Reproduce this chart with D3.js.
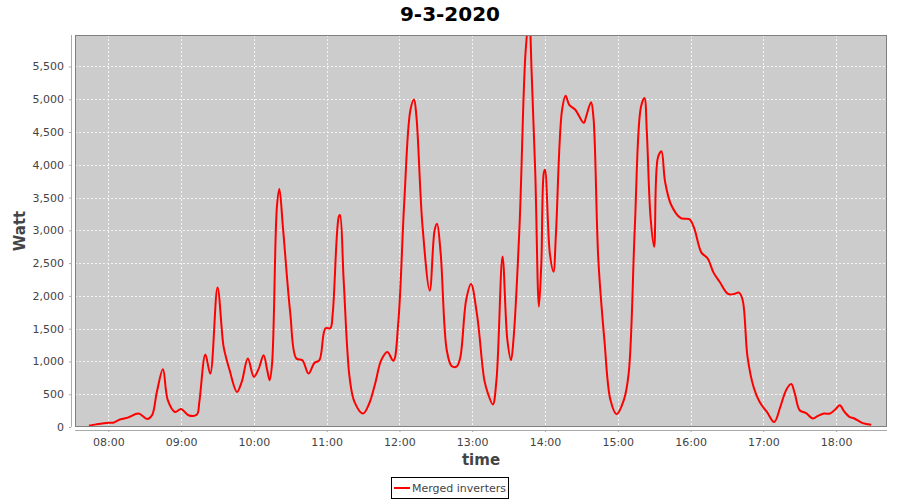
<!DOCTYPE html>
<html>
<head>
<meta charset="utf-8">
<script src="https://cdn.jsdelivr.net/npm/d3@7"></script>
<style>
  body { margin: 0; background: #fff; }
  text { font-family: "DejaVu Sans", sans-serif; }
</style>
</head>
<body>
<svg id="chart"></svg>
<script>
// readings of the day (time of day, power in Watt)
const times = ["07:44","07:50","08:00","08:04","08:10","08:16","08:25","08:32","08:36","08:40","08:45","08:49","08:55",
  "09:00","09:06","09:13","09:15","09:20","09:24","09:30","09:35","09:38","09:40","09:46","09:50","09:55",
  "10:00","10:04","10:08","10:11","10:13","10:15","10:19","10:21","10:24","10:30","10:35","10:40","10:45","10:50","10:54","10:59",
  "11:03","11:05","11:10","11:11","11:14","11:19","11:23","11:30","11:35","11:40","11:45","11:50","11:55","11:59",
  "12:04","12:09","12:12","12:14","12:19","12:25","12:29","12:31","12:34","12:39","12:43","12:47","12:50","12:55","12:59",
  "13:04","13:10","13:13","13:17","13:20","13:25","13:29","13:32","13:34","13:39","13:44","13:47","13:49","13:52","13:55","13:57","13:59",
  "14:00","14:04","14:07","14:09","14:14","14:17","14:20","14:25","14:32","14:34","14:38","14:40","14:44","14:49","14:54","14:59",
  "15:05","15:09","15:14","15:19","15:22","15:24","15:27","15:30","15:33","15:36","15:39","15:44","15:52","15:59",
  "16:03","16:09","16:14","16:19","16:24","16:31","16:36","16:40","16:43","16:47","16:52","16:57",
  "17:03","17:09","17:14","17:19","17:23","17:26","17:30","17:35","17:41","17:45","17:50","17:55",
  "18:00","18:03","18:07","18:11","18:15","18:22","18:29"];
const watts = [20,40,65,65,118,143,205,122,180,535,880,410,230,
  275,180,190,380,1105,815,2130,1225,995,865,535,690,1045,
  765,890,1095,865,715,970,3365,3630,3035,1735,1045,1020,815,980,1020,1505,
  1505,1735,3210,3235,2245,740,380,205,355,665,1020,1145,1010,1580,
  3440,4830,4995,4740,3070,2080,3000,3100,2650,1175,930,920,1045,1935,2180,
  1710,715,510,345,715,2600,1325,1020,1325,3060,5720,6250,5410,3875,1835,2500,3875,
  3925,2650,2370,2930,4825,5055,4915,4840,4640,4740,4955,4715,2550,1325,410,195,
  410,815,3010,4870,5020,4485,3210,2750,4100,4205,3745,3390,3185,3170,
  3035,2660,2575,2355,2215,2030,2030,2050,1935,1070,610,380,
  230,75,305,570,655,510,255,215,130,170,205,205,
  280,330,230,155,130,60,35];
const yTicks = [0,500,1000,1500,2000,2500,3000,3500,4000,4500,5000,5500];
const xTickLabels = ["08:00","09:00","10:00","11:00","12:00","13:00","14:00","15:00","16:00","17:00","18:00"];
const seriesName = "Merged inverters";

const width = 900, height = 500;
const plot = { left: 75, top: 35, right: 887, bottom: 427 };

const parseTime = d3.timeParse("%H:%M");
const data = times.map((t, i) => ({ t: parseTime(t), w: watts[i] }));

const svg = d3.select("#chart").attr("width", width).attr("height", height);

// the left edge is 07:32:30
const x = d3.scaleTime()
    .domain([new Date(parseTime("07:32").getTime() + 30000), parseTime("18:42")])
    .range([plot.left, plot.right]);

const y = d3.scaleLinear()
    .domain([0, 5980])
    .range([plot.bottom, plot.top]);

// plot background
svg.append("rect")
    .attr("x", plot.left).attr("y", plot.top)
    .attr("width", plot.right - plot.left).attr("height", plot.bottom - plot.top)
    .attr("fill", "#cccccc");

// grid lines
const grid = svg.append("g").attr("stroke", "#f4f4f4").attr("stroke-dasharray", "2,2").attr("stroke-width", 1);
grid.selectAll(".gy").data(yTicks.filter(d => d > 0)).enter().append("line")
    .attr("x1", plot.left).attr("x2", plot.right)
    .attr("y1", d => Math.round(y(d)) + 0.5).attr("y2", d => Math.round(y(d)) + 0.5);
grid.selectAll(".gx").data(xTickLabels).enter().append("line")
    .attr("y1", plot.top).attr("y2", plot.bottom)
    .attr("x1", d => Math.round(x(parseTime(d))) + 0.5).attr("x2", d => Math.round(x(parseTime(d))) + 0.5);

// the series
svg.append("clipPath").attr("id", "clip").append("rect")
    .attr("x", plot.left).attr("y", plot.top)
    .attr("width", plot.right - plot.left).attr("height", plot.bottom - plot.top);

const line = d3.line()
    .x(d => x(d.t))
    .y(d => y(d.w))
    .curve(d3.curveCatmullRom.alpha(0.5));

svg.append("path")
    .datum(data)
    .attr("clip-path", "url(#clip)")
    .attr("fill", "none")
    .attr("stroke", "#ff0000")
    .attr("stroke-width", 2)
    .attr("stroke-linejoin", "round")
    .attr("d", line);

// plot border
svg.append("rect")
    .attr("x", plot.left + 0.5).attr("y", plot.top + 0.5)
    .attr("width", plot.right - plot.left - 1).attr("height", plot.bottom - plot.top - 1)
    .attr("fill", "none").attr("stroke", "#808080");

// y axis
const yAxis = d3.axisLeft(y)
    .tickValues(yTicks)
    .tickSize(2)
    .tickPadding(5)
    .tickFormat(d3.format(","));
const gy = svg.append("g")
    .attr("transform", `translate(${plot.left - 4},0)`)
    .call(yAxis);
gy.select(".domain").attr("stroke", "#aaaaaa").attr("d", `M0.5,${plot.top}V${plot.bottom}`);
gy.selectAll(".tick line").attr("stroke", "#aaaaaa");
gy.selectAll(".tick text").attr("fill", "#444").attr("font-size", 11).attr("font-family", "DejaVu Sans, sans-serif");

// x axis
const xAxis = d3.axisBottom(x)
    .tickValues(xTickLabels.map(parseTime))
    .tickSize(2)
    .tickPadding(6)
    .tickFormat(d3.timeFormat("%H:%M"));
const gx = svg.append("g")
    .attr("transform", `translate(0,${plot.bottom + 3})`)
    .call(xAxis);
gx.select(".domain").attr("stroke", "#aaaaaa").attr("d", `M${plot.left},0.5H${plot.right}`);
gx.selectAll(".tick line").attr("stroke", "#aaaaaa");
gx.selectAll(".tick text").attr("fill", "#444").attr("font-size", 11).attr("font-family", "DejaVu Sans, sans-serif");

// title and axis labels
svg.append("text")
    .attr("x", width / 2).attr("y", 21)
    .attr("text-anchor", "middle")
    .attr("font-size", 20).attr("font-weight", "bold").attr("fill", "#000")
    .text("9-3-2020");

svg.append("text")
    .attr("x", (plot.left + plot.right) / 2).attr("y", 465)
    .attr("text-anchor", "middle")
    .attr("font-size", 15).attr("font-weight", "bold").attr("fill", "#444")
    .text("time");

svg.append("text")
    .attr("transform", `translate(25,${(plot.top + plot.bottom) / 2}) rotate(-90)`)
    .attr("text-anchor", "middle")
    .attr("font-size", 15).attr("font-weight", "bold").attr("fill", "#444")
    .text("Watt");

// legend
const legend = svg.append("g");
legend.append("rect")
    .attr("x", 391.5).attr("y", 477.5).attr("width", 117).attr("height", 21)
    .attr("fill", "#fff").attr("stroke", "#000");
legend.append("line")
    .attr("x1", 394).attr("x2", 410).attr("y1", 488).attr("y2", 488)
    .attr("stroke", "#ff0000").attr("stroke-width", 2);
legend.append("text")
    .attr("x", 412).attr("y", 492)
    .attr("font-size", 11).attr("fill", "#444")
    .text(seriesName);
</script>
</body>
</html>
